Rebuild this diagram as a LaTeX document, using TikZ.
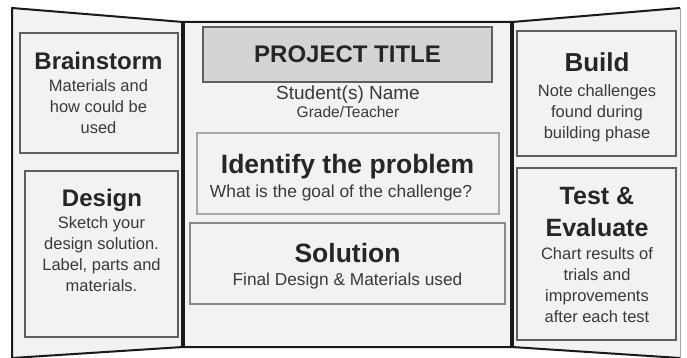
\documentclass[tikz,border=0pt]{standalone}
\usepackage{fontspec}
\setmainfont{Liberation Sans}
\definecolor{panelgray}{HTML}{F2F2F2}
\definecolor{titlegray}{HTML}{D4D4D4}
\definecolor{cardline}{HTML}{5E5E5E}
\definecolor{softline}{HTML}{A8A8A8}
\definecolor{midline}{HTML}{888888}
\definecolor{subtext}{HTML}{3A3A3A}

\begin{document}
\begin{tikzpicture}[x=1pt,y=-1pt,
    frame/.style={draw=black!90,line width=2pt,line join=round},
    card/.style={rectangle,draw=cardline,line width=1.6pt,fill=panelgray,inner sep=0pt},
    head/.style={font=\bfseries\fontsize{24}{31.5}\selectfont,align=center,inner sep=0pt,anchor=base,text=black!85},
    sub/.style={font=\fontsize{16.5}{21}\selectfont,align=center,inner sep=0pt,anchor=base,text=subtext}]
  \fill[white] (0,0) rectangle (687,358);
  \useasboundingbox (0,0) rectangle (687,358);
  % the three panels of the board
  \fill[panelgray] (12,8) -- (183,22) -- (183,347) -- (12,358) -- cycle;
  \fill[panelgray] (183,22) rectangle (512,347);
  \fill[panelgray] (512,22) -- (680,8) -- (680,358) -- (512,347) -- cycle;
  \draw[frame] (183,22) -- (12,8) -- (12,358);
  \draw[frame] (12,358) -- (183,347);
  \draw[frame] (183,22) -- (512,22) -- (680,8);
  \draw[frame] (183,347) -- (512,347) -- (680,358);
  \draw[draw=softline,line width=1pt] (680,8) -- (680,358);
  \draw[frame,line width=3.5pt] (183,22) -- (183,347);
  \draw[frame,line width=3.5pt] (512,22) -- (512,347);

  % left panel (multi-line texts sit on their last baseline)
  \node[card,minimum width=158pt,minimum height=120pt] (brainbox) at (99,93) {};
  \node[head] (brainhead) at (98.5,70) {Brainstorm};
  \node[sub] (brainsub) at (98.5,133.5) {Materials and\\how could be\\used};
  \node[card,minimum width=153pt,minimum height=166pt] (designbox) at (101.5,254) {};
  \node[head] (designhead) at (102,206) {Design};
  \node[sub] (designsub) at (101.5,291) {Sketch your\\design solution.\\Label, parts and\\materials.};

  % centre panel
  \node[card,fill=titlegray,minimum width=289pt,minimum height=55pt] (titlebox) at (347.5,54.5) {};
  \node[head] (titlehead) at (347.5,63) {PROJECT TITLE};
  \node[sub,font=\fontsize{19}{21}\selectfont] (student) at (348,99.5) {Student(s) Name};
  \node[sub,font=\fontsize{15.5}{18}\selectfont] (grade) at (348,118) {Grade/Teacher};
  \node[card,draw=softline,minimum width=302pt,minimum height=81pt] (problembox) at (348,173.5) {};
  \node[head,font=\bfseries\fontsize{26.5}{30}\selectfont] (problemhead) at (347.5,174) {Identify the problem};
  \node[sub,font=\fontsize{17.4}{21}\selectfont] (problemsub) at (341,197.5) {What is the goal of the challenge?};
  \node[card,draw=midline,minimum width=315pt,minimum height=81pt] (solutionbox) at (347.5,263.5) {};
  \node[head,font=\bfseries\fontsize{26.5}{30}\selectfont] (solutionhead) at (347.5,262) {Solution};
  \node[sub,font=\fontsize{17.3}{21}\selectfont] (solutionsub) at (347.5,285.5) {Final Design \& Materials used};

  % right panel
  \node[card,minimum width=159pt,minimum height=125pt] (buildbox) at (596.5,93.5) {};
  \node[head,font=\bfseries\fontsize{26}{31.5}\selectfont] (buildhead) at (597,72) {Build};
  \node[sub] (buildsub) at (597,139) {Note challenges\\found during\\building phase};
  \node[card,minimum width=159pt,minimum height=172pt] (testbox) at (596.5,254) {};
  \node[head,font=\bfseries\fontsize{25}{31.5}\selectfont] (testhead) at (597,236) {Test \&\\Evaluate};
  \node[sub] (testsub) at (597,322) {Chart results of\\trials and\\improvements\\after each test};
\end{tikzpicture}
\end{document}
